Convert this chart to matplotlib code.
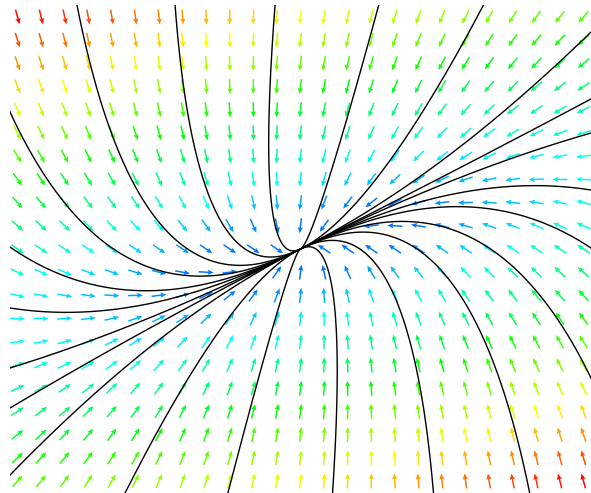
import numpy as np
import matplotlib
matplotlib.use("Agg")
import matplotlib.pyplot as plt
from matplotlib.colors import ListedColormap, hsv_to_rgb

# Linear system x' = A x
A = np.array([[-1.0, -0.185],
              [1.10, -2.50]])

# Quiver grid
x_grid = np.linspace(-3, 3, 25)
y_grid = np.linspace(-4, 4, 21)

# Axis limits
x_lim = (-3.08, 3.08)
y_lim = (-4.207, 4.207)

# Trajectory starting points (on the frame of the plot)
top_x = [-2.37, -1.33, -0.27, 0.83, 1.94]
bottom_x = [-1.86, -0.77, 0.34, 1.41, 2.43]
left_y = [2.362, 0.034, -1.017, -2.052, -2.741, -3.897]
right_y = [3.741, 2.586, 2.0, 1.017, 0.017, -2.224]

W, H, DPI = 591, 493, 100
fig = plt.figure(figsize=(W / DPI, H / DPI), dpi=DPI)
ax = fig.add_axes([10 / W, 0, 581 / W, 488 / H])
ax.set_xlim(*x_lim)
ax.set_ylim(*y_lim)
ax.axis('off')

# pixels per data unit
sx = 581 / (x_lim[1] - x_lim[0])
sy = 488 / (y_lim[1] - y_lim[0])

X, Y = np.meshgrid(x_grid, y_grid)
U = A[0, 0] * X + A[0, 1] * Y
V = A[1, 0] * X + A[1, 1] * Y
M = np.hypot(U, V)
Up, Vp = U * sx, V * sy
Np = np.hypot(Up, Vp)
mask = Np > 1e-9
Un = Up[mask] / Np[mask]
Vn = Vp[mask] / Np[mask]

hues = np.linspace(0.59, 0.0, 256)
cmap = ListedColormap(hsv_to_rgb(np.stack([hues, np.ones_like(hues), np.ones_like(hues)], axis=1)))

ax.quiver(X[mask], Y[mask], Un, Vn, M[mask], cmap=cmap,
          clim=(0.1 * M.max(), M.max()), angles='uv', units='dots', scale_units='dots',
          scale=1 / 15.0, width=1.5, headwidth=3.5, headlength=4,
          headaxislength=3.5, pivot='mid', zorder=1)

def traj(p0, t0=-0.3, t1=14.0, dt=0.005):
    def f(p):
        return A @ p
    p = np.array(p0, dtype=float)
    back = [p.copy()]
    q = p.copy()
    for _ in range(int(-t0 / dt)):
        k1 = f(q); k2 = f(q - dt / 2 * k1); k3 = f(q - dt / 2 * k2); k4 = f(q - dt * k3)
        q = q - dt / 6 * (k1 + 2 * k2 + 2 * k3 + k4)
        back.append(q.copy())
    fwd = [p.copy()]
    q = p.copy()
    for _ in range(int(t1 / dt)):
        k1 = f(q); k2 = f(q + dt / 2 * k1); k3 = f(q + dt / 2 * k2); k4 = f(q + dt * k3)
        q = q + dt / 6 * (k1 + 2 * k2 + 2 * k3 + k4)
        fwd.append(q.copy())
    pts = np.array(back[::-1] + fwd[1:])
    return pts[:, 0], pts[:, 1]

starts = ([(x, y_lim[1]) for x in top_x] + [(x, y_lim[0]) for x in bottom_x] +
          [(x_lim[0], y) for y in left_y] + [(x_lim[1], y) for y in right_y])
for s in starts:
    xs, ys = traj(s)
    ax.plot(xs, ys, color='black', lw=1.0, zorder=2)

fig.savefig('out.png', dpi=DPI)
